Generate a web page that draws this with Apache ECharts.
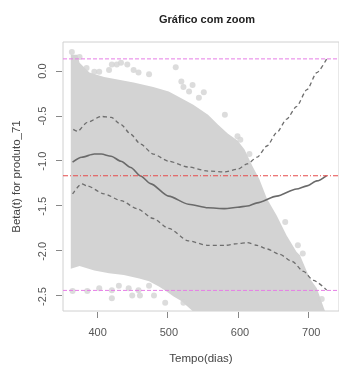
<!DOCTYPE html>
<html>
<head>
<meta charset="utf-8">
<script src="https://cdn.jsdelivr.net/npm/echarts@6/dist/echarts.min.js"></script>
<style>
  html, body { margin: 0; padding: 0; background: #fff; }
  #chart { width: 339px; height: 370px; }
</style>
</head>
<body>
<div id="chart"></div>
<script>
// eixos / ticks
const xRange = [351.4, 744.6];
const yRange = [-2.683, 0.3215];
const xTicks = [400, 500, 600, 700];
const yTicks = [-2.5, -2.0, -1.5, -1.0, -0.5, 0.0];

// nuvem de pontos densa (contorno superior e inferior)
const cloudTopX = [362.5, 372, 375, 389, 410, 452, 480, 502, 516, 537, 558, 572, 586, 600, 610, 621, 631, 642, 656, 670, 684, 689, 703, 713, 723, 725];
const cloudTopY = [0.18, 0.18, 0.09, -0.02, -0.07, -0.13, -0.18, -0.23, -0.29, -0.38, -0.49, -0.60, -0.70, -0.78, -0.88, -1.06, -1.21, -1.43, -1.62, -1.84, -2.02, -2.06, -2.32, -2.43, -2.65, -2.69];
const cloudBotX = [362.5, 375, 396, 417, 438, 460, 474, 488, 498, 509, 520, 537, 725];
const cloudBotY = [-2.21, -2.18, -2.23, -2.26, -2.28, -2.32, -2.35, -2.41, -2.46, -2.52, -2.57, -2.69, -2.69];

// pontos isolados
const outX = [364, 375, 385, 396, 403, 417, 421, 428, 434, 443, 452, 459, 474, 512, 520, 523, 536, 531, 552, 545, 582, 600, 604, 617,
              365, 386, 403, 421, 431, 445, 459, 474, 421, 450, 461, 481, 497, 523, 668, 686, 693, 720];
const outY = [0.21, 0.155, 0.03, -0.01, -0.01, 0.01, 0.07, 0.07, 0.09, 0.07, 0.01, -0.02, -0.04, 0.04, -0.12, -0.18, -0.16, -0.23, -0.24, -0.30, -0.49, -0.73, -0.77, -0.93,
              -2.46, -2.46, -2.43, -2.45, -2.40, -2.43, -2.45, -2.40, -2.54, -2.51, -2.51, -2.51, -2.59, -2.59, -1.69, -1.95, -2.04, -2.55];

// curva estimada e bandas
const fitX = [365, 378, 396, 406, 420, 434, 448, 462, 476, 502, 530, 558, 582, 600, 614, 628, 656, 684, 699, 713, 727];
const fitY = [-1.02, -0.965, -0.93, -0.93, -0.955, -1.01, -1.08, -1.175, -1.26, -1.40, -1.49, -1.53, -1.54, -1.525, -1.51, -1.475, -1.40, -1.32, -1.285, -1.23, -1.17];
const upX = [366, 372, 386, 406, 420, 434, 448, 462, 480, 502, 530, 558, 582, 600, 614, 628, 642, 656, 670, 684, 699, 713, 727];
const upY = [-0.654, -0.676, -0.576, -0.51, -0.52, -0.60, -0.71, -0.82, -0.93, -1.01, -1.075, -1.12, -1.13, -1.10, -1.04, -0.965, -0.84, -0.69, -0.54, -0.40, -0.21, -0.02, 0.133];
const loX = [365, 378, 386, 410, 434, 457, 480, 502, 530, 558, 582, 600, 614, 628, 642, 660, 678, 694, 708, 727];
const loY = [-1.375, -1.264, -1.286, -1.375, -1.45, -1.54, -1.65, -1.76, -1.90, -1.95, -1.95, -1.93, -1.92, -1.95, -1.99, -2.05, -2.13, -2.24, -2.34, -2.45];

// linhas horizontais
const limLines = [0.133, -2.453];
const meanLine = -1.172;

const zip = (xs, ys) => xs.map((x, i) => [x, ys[i]]);
const hline = y => [[xRange[0], y], [xRange[1], y]];
const font = 'Liberation Sans, Arial, sans-serif';
const chart = echarts.init(document.getElementById('chart'));

// area da plotagem em pixels
const W = 339, H = 370;
const plot = { left: 63, top: 42, right: -4, bottom: 57 };
const plotW = W - plot.left - plot.right;
const plotH = H - plot.top - plot.bottom;
// grids auxiliares so para rotulos, alinhados com a mesma escala
const xFirst = xTicks[0], xLast = xTicks[xTicks.length - 1];
const yFirst = yTicks[0], yLast = yTicks[yTicks.length - 1];
const tickGridX = {
  left: plot.left + (xFirst - xRange[0]) / (xRange[1] - xRange[0]) * plotW,
  right: W - (plot.left + (xLast - xRange[0]) / (xRange[1] - xRange[0]) * plotW),
  top: plot.top, bottom: plot.bottom
};
const tickGridY = {
  left: plot.left, right: plot.right,
  top: plot.top + (yRange[1] - yLast) / (yRange[1] - yRange[0]) * plotH,
  bottom: H - (plot.top + (yRange[1] - yFirst) / (yRange[1] - yRange[0]) * plotH)
};

const labelStyle = { fontFamily: font, fontSize: 11, color: '#555' };
const nameStyle = { fontFamily: font, fontSize: 11.5, color: '#444' };
const refStyle = {
  magenta: { color: '#e67ee6', type: [4, 2], width: 1 },
  red: { color: '#e64c4c', type: [5, 2, 1, 2], width: 1.1 }
};

const option = {
  animation: false,
  title: {
    text: 'Gráfico com zoom',
    left: 202,
    top: 9,
    textAlign: 'center',
    textStyle: { fontFamily: font, fontSize: 11, fontWeight: 'bold', color: '#222' }
  },
  grid: [
    Object.assign({ show: true, borderColor: '#d0d0d0', borderWidth: 1, backgroundColor: '#fff' }, plot),
    Object.assign({ show: false }, tickGridX),
    Object.assign({ show: false }, tickGridY)
  ],
  xAxis: [
    {
      gridIndex: 0, type: 'value', min: xRange[0], max: xRange[1],
      name: 'Tempo(dias)', nameLocation: 'middle', nameGap: 42, nameTextStyle: nameStyle,
      axisLine: { show: false, onZero: false }, axisTick: { show: false },
      axisLabel: { show: false }, splitLine: { show: false }
    },
    {
      gridIndex: 1, type: 'value', min: xFirst, max: xLast, interval: 100,
      axisLine: { show: false, onZero: false }, axisTick: { show: false },
      axisLabel: Object.assign({ margin: 14 }, labelStyle), splitLine: { show: false }
    },
    { gridIndex: 2, type: 'value', show: false, min: 0, max: 1 }
  ],
  yAxis: [
    {
      gridIndex: 0, type: 'value', min: yRange[0], max: yRange[1],
      name: 'Beta(t) for produto_71', nameLocation: 'middle', nameGap: 40, nameTextStyle: nameStyle,
      axisLine: { show: false, onZero: false }, axisTick: { show: false },
      axisLabel: { show: false }, splitLine: { show: false }
    },
    { gridIndex: 1, type: 'value', show: false, min: 0, max: 1 },
    {
      gridIndex: 2, type: 'value', min: yFirst, max: yLast, interval: 0.5,
      axisLine: { show: false, onZero: false }, axisTick: { show: false },
      axisLabel: Object.assign({ margin: 15, rotate: 90, formatter: v => v.toFixed(1) }, labelStyle),
      splitLine: { show: false }
    }
  ],
  series: [
    {
      type: 'custom',
      silent: true,
      clip: true,
      z: 1,
      data: [[cloudTopX[0], cloudTopY[0]]],
      renderItem: function (params, api) {
        const pts = [];
        for (let i = 0; i < cloudTopX.length; i++) pts.push(api.coord([cloudTopX[i], cloudTopY[i]]));
        for (let i = cloudBotX.length - 1; i >= 0; i--) pts.push(api.coord([cloudBotX[i], cloudBotY[i]]));
        return { type: 'polygon', shape: { points: pts }, style: { fill: '#d3d3d3' } };
      }
    },
    {
      type: 'scatter',
      silent: true,
      z: 2,
      symbolSize: 6,
      itemStyle: { color: '#d3d3d3' },
      data: zip(outX, outY)
    },
    {
      type: 'line', z: 5, silent: true, symbol: 'none',
      data: hline(limLines[0]), lineStyle: refStyle.magenta
    },
    {
      type: 'line', z: 5, silent: true, symbol: 'none',
      data: hline(limLines[1]), lineStyle: refStyle.magenta
    },
    {
      type: 'line', z: 5, silent: true, symbol: 'none',
      data: hline(meanLine), lineStyle: refStyle.red
    },
    {
      type: 'line',
      z: 4,
      data: zip(fitX, fitY),
      symbol: 'none',
      smooth: 0.25,
      smoothMonotone: 'x',
      lineStyle: { color: '#6a6a6a', width: 1.6 }
    },
    {
      type: 'line',
      z: 3,
      data: zip(upX, upY),
      symbol: 'none',
      smooth: 0.25,
      smoothMonotone: 'x',
      lineStyle: { color: '#6e6e6e', width: 1.3, type: [4, 3] }
    },
    {
      type: 'line',
      z: 3,
      data: zip(loX, loY),
      symbol: 'none',
      smooth: 0.25,
      smoothMonotone: 'x',
      lineStyle: { color: '#6e6e6e', width: 1.3, type: [4, 3] }
    }
  ]
};

chart.setOption(option);

// marcas de tick: posicoes convertidas pela escala do grid principal
const tickEls = [];
xTicks.forEach(v => {
  const p = chart.convertToPixel({ gridIndex: 0 }, [v, yRange[0]]);
  const x = Math.round(p[0]) + 0.5, y = Math.round(p[1]) + 1;
  tickEls.push({ type: 'line', silent: true, z: 100,
    shape: { x1: x, y1: y, x2: x, y2: y + 6 }, style: { stroke: '#888', lineWidth: 1 } });
});
yTicks.forEach(v => {
  const p = chart.convertToPixel({ gridIndex: 0 }, [xRange[0], v]);
  const x = Math.round(p[0]) - 1, y = Math.round(p[1]) + 0.5;
  tickEls.push({ type: 'line', silent: true, z: 100,
    shape: { x1: x, y1: y, x2: x - 6, y2: y }, style: { stroke: '#888', lineWidth: 1 } });
});
chart.setOption({ graphic: tickEls });
</script>
</body>
</html>
